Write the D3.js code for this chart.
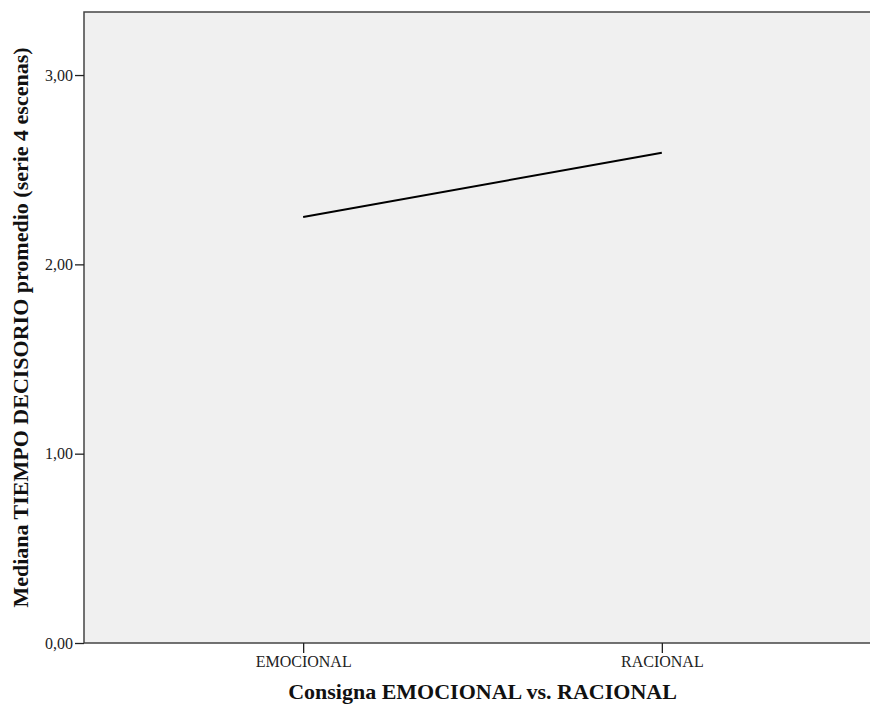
<!DOCTYPE html>
<html><head><meta charset="utf-8">
<script src="https://cdn.jsdelivr.net/npm/d3@7"></script>
<style>body{margin:0;background:#fff}svg{display:block}</style>
</head><body>
<svg id="c" width="870" height="707"></svg>
<script>
const categories = ["EMOCIONAL", "RACIONAL"];
const values = [2.25, 2.59];
const yTicks = [0, 1, 2, 3];
const yTitle = "Mediana TIEMPO DECISORIO promedio (serie 4 escenas)";
const xTitle = "Consigna EMOCIONAL vs. RACIONAL";

const svg = d3.select("#c");
const m = {left: 84, top: 12, right: 881, bottom: 643};
const x = d3.scalePoint().domain(categories).range([m.left, m.right]).padding(0.611);
const y = d3.scaleLinear().domain([0, 3.333]).range([m.bottom, m.top]);

svg.append("rect").attr("x", m.left).attr("y", m.top)
  .attr("width", m.right - m.left).attr("height", m.bottom - m.top)
  .attr("fill", "#f0f0f0").attr("stroke", "#444").attr("stroke-width", 1.5);

const fmt = d => d3.format(".2f")(d).replace(".", ",");
const ya = svg.append("g").attr("transform", `translate(${m.left},0)`)
  .call(d3.axisLeft(y).tickValues(yTicks).tickFormat(fmt).tickSize(9).tickPadding(2));
ya.select(".domain").remove();
ya.selectAll("line").attr("stroke", "#222").attr("stroke-width", 1.3);
ya.selectAll("text").attr("font-family", "Liberation Serif").attr("font-size", 16).attr("fill", "#222");

const xa = svg.append("g").attr("transform", `translate(0,${m.bottom})`)
  .call(d3.axisBottom(x).tickSize(10).tickPadding(3));
xa.select(".domain").remove();
xa.selectAll("line").attr("stroke", "#222").attr("stroke-width", 1.3);
xa.selectAll("text").attr("font-family", "Liberation Serif").attr("font-size", 16).attr("fill", "#222");

svg.append("path").datum(categories.map((c, i) => [c, values[i]]))
  .attr("fill", "none").attr("stroke", "#000").attr("stroke-width", 2)
  .attr("d", d3.line().x(d => x(d[0])).y(d => y(d[1])));

svg.append("text").attr("x", (m.left + m.right) / 2).attr("y", 699)
  .attr("text-anchor", "middle").attr("font-family", "Liberation Serif")
  .attr("font-weight", "bold").attr("font-size", 22).attr("fill", "#111").text(xTitle);

svg.append("text").attr("transform", `translate(28,${(m.top + m.bottom) / 2}) rotate(-90)`)
  .attr("text-anchor", "middle").attr("font-family", "Liberation Serif")
  .attr("font-weight", "bold").attr("font-size", 22).attr("fill", "#111").text(yTitle);
</script>
</body></html>
